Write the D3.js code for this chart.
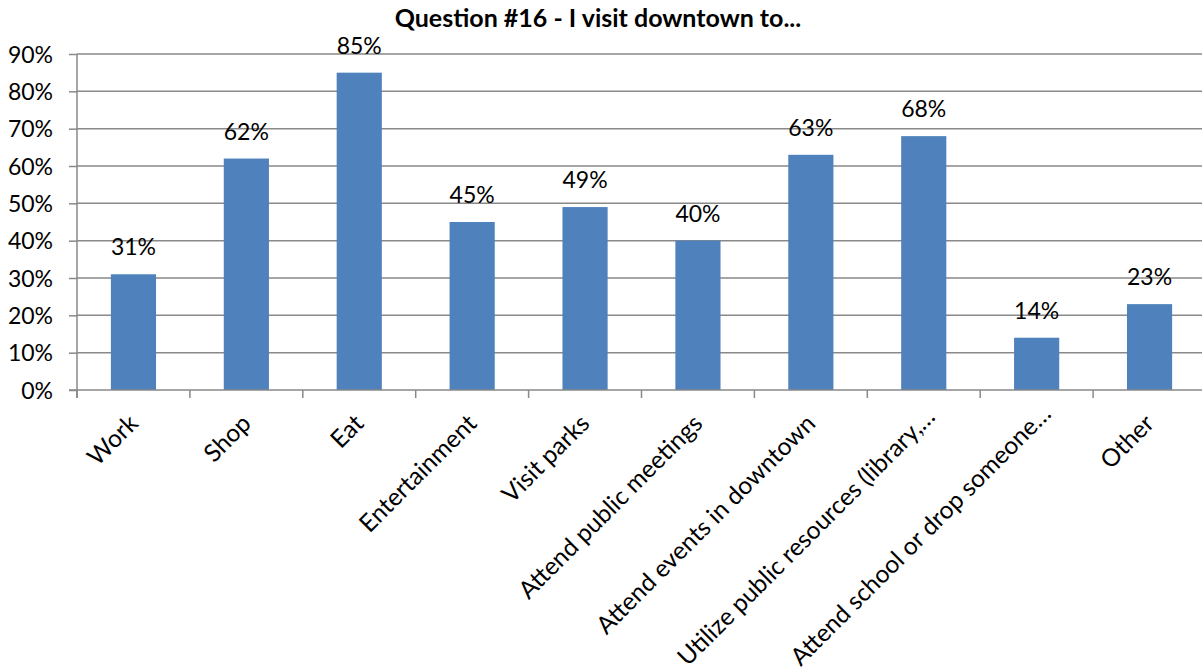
<!DOCTYPE html>
<html>
<head>
<meta charset="utf-8">
<script src="https://cdn.jsdelivr.net/npm/d3@7/dist/d3.min.js"></script>
<style>
  html, body { margin: 0; padding: 0; background: #fff; }
  svg { display: block; }
  text { font-family: Lato, "Open Sans", sans-serif; fill: #000; }
</style>
</head>
<body>
<svg id="chart" width="1202" height="671"></svg>
<script>
// Survey answers, share of respondents per reason
const categories = [
  "Work", "Shop", "Eat", "Entertainment", "Visit parks",
  "Attend public meetings", "Attend events in downtown",
  "Utilize public resources (library,…", "Attend school or drop someone…", "Other"
];
const values = [31, 62, 85, 45, 49, 40, 63, 68, 14, 23];
const yTicks = [0, 10, 20, 30, 40, 50, 60, 70, 80, 90];
const title = "Question #16 - I visit downtown to...";

const W = 1202, H = 671;
const svg = d3.select("#chart");
const plotLeft = 77, plotRight = 1206, plotTop = 54, plotBottom = 390;

const x = d3.scaleBand().domain(categories).range([plotLeft, plotRight]).paddingInner(0.6).paddingOuter(0.3);
const y = d3.scaleLinear().domain([0, 90]).range([plotBottom, plotTop]);
const bandX = d3.scaleBand().domain(categories).range([plotLeft, plotRight]);

// horizontal gridlines
svg.append("g").selectAll("line").data(yTicks.slice(1)).join("line")
  .attr("x1", plotLeft).attr("x2", W)
  .attr("y1", d => y(d)).attr("y2", d => y(d))
  .attr("stroke", "#898989").attr("stroke-width", 1.5);

// bars
svg.append("g").selectAll("rect").data(values).join("rect")
  .attr("x", (d, i) => x(categories[i]))
  .attr("width", x.bandwidth())
  .attr("y", d => y(d))
  .attr("height", d => y(0) - y(d))
  .attr("fill", "#4F81BD");

// value labels
svg.append("g").selectAll("text").data(values).join("text")
  .attr("x", (d, i) => x(categories[i]) + x.bandwidth() / 2)
  .attr("y", d => y(d) - 19)
  .attr("text-anchor", "middle")
  .style("font-size", "23px")
  .text(d => d + "%");

// y axis
const yAxis = d3.axisLeft(y).tickValues(yTicks).tickFormat(d => d + "%").tickSize(8).tickPadding(16);
const gy = svg.append("g").attr("transform", `translate(${plotLeft},0)`).call(yAxis);
gy.select(".domain").attr("stroke", "#898989").attr("stroke-width", 1.5).attr("d", `M0,${plotTop}V${plotBottom + 8}`);
gy.selectAll(".tick line").attr("stroke", "#898989").attr("stroke-width", 1.5);
gy.selectAll(".tick text").style("font-size", "23px").attr("font-family", null).attr("dy", "0.36em");

// x axis: ticks at band boundaries
const xAxisG = svg.append("g");
xAxisG.append("line").attr("x1", plotLeft - 8).attr("x2", W)
  .attr("y1", plotBottom).attr("y2", plotBottom)
  .attr("stroke", "#898989").attr("stroke-width", 1.5);
xAxisG.selectAll("line.tk").data(categories).join("line").attr("class", "tk")
  .attr("x1", d => bandX(d)).attr("x2", d => bandX(d))
  .attr("y1", plotBottom).attr("y2", plotBottom + 8)
  .attr("stroke", "#898989").attr("stroke-width", 1.5);

// rotated category labels; baseline ends just right of the band centre,
// long labels slide up along their own direction to stay inside the frame
const diag = Math.SQRT1_2;
xAxisG.selectAll("text").data(categories).join("text")
  .attr("text-anchor", "end")
  .style("font-size", "24.5px")
  .text(d => d)
  .each(function (d) {
    const len = this.getComputedTextLength();
    let ex = bandX(d) + bandX.bandwidth() / 2 + 6;
    let ey = plotBottom + 35;
    const overflow = ey + len * diag - (H - 4);
    if (overflow > 0) { ex += overflow; ey -= overflow; }
    d3.select(this).attr("transform", `translate(${ex},${ey}) rotate(-45)`);
  });

// title
svg.append("text")
  .attr("x", 598).attr("y", 27)
  .attr("text-anchor", "middle")
  .style("font-size", "25px")
  .style("font-weight", "bold")
  .text(title);
</script>
</body>
</html>
